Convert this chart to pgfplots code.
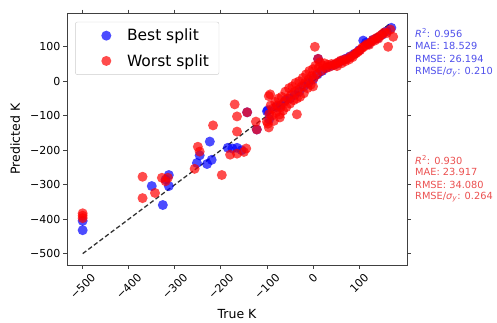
\documentclass[border=0pt]{standalone}
\usepackage{fontspec}
\setmainfont{DejaVu Sans}
\usepackage{pgfplots}
\pgfplotsset{compat=1.18}
\definecolor{bestc}{RGB}{0,0,255}
\definecolor{worstc}{RGB}{255,0,0}
\definecolor{btxt}{RGB}{80,80,235}
\definecolor{rtxt}{RGB}{235,80,80}
\begin{document}
\begin{tikzpicture}
\useasboundingbox (-67pt,-57pt) rectangle (430pt,265pt);
\begin{axis}[
  scale only axis,
  width=340pt, height=252pt,
  xmin=-534, xmax=204, ymin=-533, ymax=198,
  axis line style={black!75, line width=0.8pt},
  tick align=outside,
  major tick length=3.5pt,
  tick style={black!75, line width=0.8pt},
  xtick={-500,-400,-300,-200,-100,0,100},
  xticklabels={\rotatebox{45}{−500},\rotatebox{45}{−400},\rotatebox{45}{−300},\rotatebox{45}{−200},\rotatebox{45}{−100},\rotatebox{45}{0},\rotatebox{45}{100}},
  ytick={-500,-400,-300,-200,-100,0,100},
  yticklabels={−500,−400,−300,−200,−100,0,100},
  xticklabel style={anchor=north, font=\fontsize{11}{13}\selectfont, inner sep=2pt, yshift=-2pt},
  yticklabel style={font=\fontsize{11}{13}\selectfont, inner sep=2pt, xshift=-1pt},
  xlabel={True K}, ylabel={Predicted K},
  every axis x label/.style={at={(axis description cs:0.5,-0.195)}, anchor=center, font=\fontsize{12.5}{15}\selectfont},
  every axis y label/.style={at={(axis description cs:-0.152,0.5)}, rotate=90, anchor=center, font=\fontsize{12.5}{15}\selectfont},
  legend style={at={(0.024,0.965)}, anchor=north west, draw=black!20, rounded corners=2pt,
    font=\fontsize{15.5}{18}\selectfont, row sep=8pt, inner xsep=8pt, inner ysep=5pt},
  legend cell align=left,
  legend image code/.code={\path (0cm,0cm) (1.45cm,0cm); \draw[#1] plot coordinates {(0.8cm,0cm)};},
  clip=true,
]
\addplot[only marks, mark=*, mark size=5pt, mark options={draw=bestc, fill=bestc, draw opacity=0, fill opacity=0.7}] coordinates {
(-500,-432) (-500,-405) (-350,-304) (-313,-272) (-313,-304) (-326,-359) (-320,-285)
(-252,-237) (-246,-215) (-224,-175) (-220,-228) (-230,-240) (-185,-193) (-175,-195)
(-165,-193) (-155,-200) (-143,-90) (-122,-140) (-98,-84) (-100,-87) (-95,-110)
(-80,-75) (-70,-70) (-60,-55) (-50,-50) (-40,-40) (-30,-30) (-20,-15) (-10,-5)
(0,5) (11,65) (10,20) (20,30) (30,40) (40,45) (50,50) (60,58) (70,65) (80,72)
(90,80) (100,90) (109,118) (115,112) (120,108) (130,120) (140,125) (150,135)
(160,145) (170,155)
};
\addlegendentry{Best split}
\addplot[only marks, mark=*, mark size=5pt, mark options={draw=worstc, fill=worstc, draw opacity=0, fill opacity=0.7}] coordinates {
(-500,-383) (-500,-397) (-500,-390)
(-370,-277) (-370,-339) (-343,-324) (-328,-280) (-315,-280) (-320,-290)
(-246,-204) (-250,-190) (-257,-254) (-198,-272) (-217,-128) (-170,-67) (-143,-90)
(-165,-102) (-124,-117) (-122,-140) (-96,-134) (-165,-146) (-96,-43)
(-180,-213) (-165,-210) (-150,-205) (-145,-195)
(-93,-38)
(-100,-117) (-98,-123) (-95,-95) (-92,-70) (-90,-100) (-88,-80) (-85,-115) (-82,-60)
(-80,-90) (-78,-70) (-75,-50) (-72,-96) (-72,-105) (-70,-75) (-68,-45) (-65,-85)
(-62,-60) (-60,-30) (-58,-75) (-55,-50) (-52,-20) (-50,-65) (-48,-40) (-45,-15)
(-42,-55) (-40,-30) (-38,-5) (-35,-96) (-35,-50) (-32,-25) (-30,0) (-28,-45)
(-25,-15) (-22,10) (-20,-35) (-18,-5) (-15,20) (-12,-20) (-10,5) (-8,30) (-5,-10)
(-3,15) (0,-15) (0,35) (2,10) (4,100) (5,45) (8,20) (11,65) (12,40) (15,55)
(18,30) (22,45) (25,52) (28,38) (32,48) (36,42) (40,50) (45,47) (50,52) (52,44)
(55,55) (60,60) (62,52) (66,62) (70,58) (74,66) (78,63) (82,72) (86,70) (90,78)
(94,82) (98,86) (102,90) (106,96) (110,100) (114,104) (118,108) (122,106) (126,114)
(130,120) (134,118) (138,126) (142,124) (146,132) (150,136) (155,142) (160,140)
(163,100) (168,150) (174,129)
};
\addlegendentry{Worst split}
\addplot[black!80, line width=1.3pt, dash pattern=on 4.5pt off 2.5pt, forget plot] coordinates {(-500,-500) (168,168)};
\end{axis}
\begin{scope}[every node/.style={anchor=west, inner sep=0pt, font=\fontsize{9.8}{11}\selectfont}]
\node[text=btxt] at (348pt,232pt) {\textit{R}\textsuperscript{2}: 0.956};
\node[text=btxt] at (348pt,219pt) {MAE: 18.529};
\node[text=btxt] at (348pt,206pt) {RMSE: 26.194};
\node[text=btxt] at (348pt,193pt) {RMSE/\textit{σ}\textsubscript{\textit{y}}: 0.210};
\node[text=rtxt] at (348pt,105pt) {\textit{R}\textsuperscript{2}: 0.930};
\node[text=rtxt] at (348pt,93pt) {MAE: 23.917};
\node[text=rtxt] at (348pt,80pt) {RMSE: 34.080};
\node[text=rtxt] at (348pt,68pt) {RMSE/\textit{σ}\textsubscript{\textit{y}}: 0.264};
\end{scope}
\end{tikzpicture}
\end{document}
